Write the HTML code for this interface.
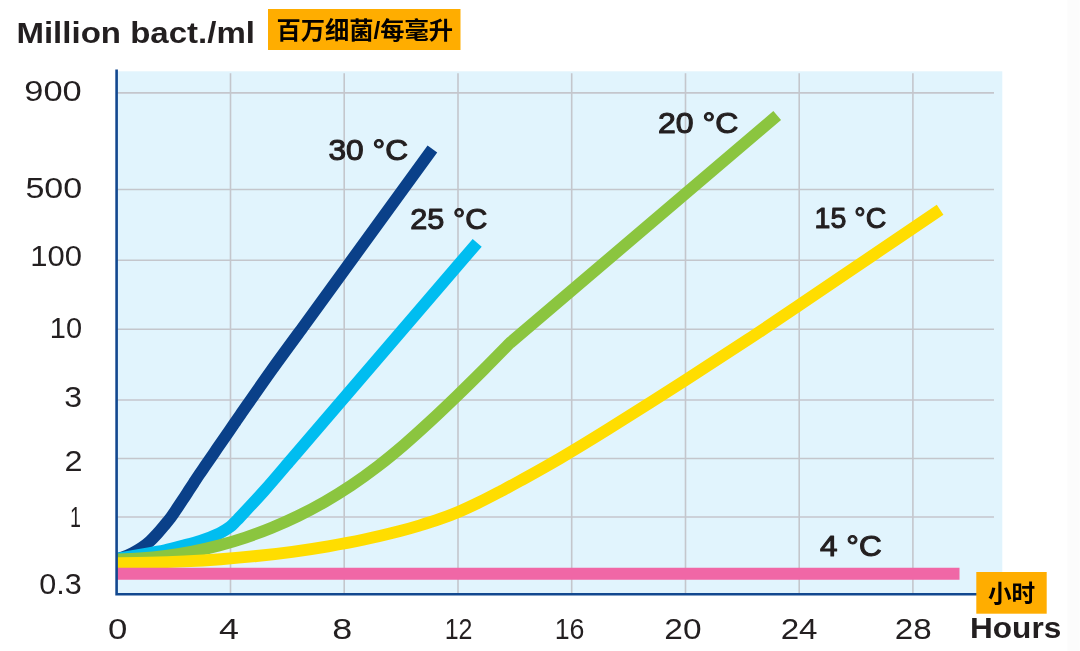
<!DOCTYPE html>
<html lang="zh"><head><meta charset="utf-8"><title>Million bact./ml</title>
<style>html,body{margin:0;padding:0;background:#fff}body{width:1080px;height:651px;overflow:hidden}svg{display:block}</style>
</head><body>
<svg width="1080" height="651" viewBox="0 0 1080 651">
<rect x="0" y="0" width="1080" height="651" fill="#ffffff"/>
<rect x="1067.5" y="0" width="12" height="651" fill="#fcfcfc"/>
<rect x="116.5" y="71.3" width="885.8" height="523" fill="#e1f4fd"/>
<g stroke="#c4c6cc" stroke-width="1.6" fill="none"><line x1="230.5" y1="73.3" x2="230.5" y2="594"/><line x1="344.2" y1="73.3" x2="344.2" y2="594"/><line x1="458.0" y1="73.3" x2="458.0" y2="594"/><line x1="571.7" y1="73.3" x2="571.7" y2="594"/><line x1="685.5" y1="73.3" x2="685.5" y2="594"/><line x1="799.2" y1="73.3" x2="799.2" y2="594"/><line x1="912.9" y1="73.3" x2="912.9" y2="594"/><line x1="117" y1="92.9" x2="994" y2="92.9"/><line x1="117" y1="189.5" x2="994" y2="189.5"/><line x1="117" y1="260.3" x2="994" y2="260.3"/><line x1="117" y1="329.2" x2="994" y2="329.2"/><line x1="117" y1="400.0" x2="994" y2="400.0"/><line x1="117" y1="458.5" x2="994" y2="458.5"/><line x1="117" y1="517.0" x2="994" y2="517.0"/></g>
<clipPath id="plot"><rect x="117" y="60" width="890" height="540"/></clipPath>
<g fill="none" stroke-width="11.9" stroke-linejoin="round" clip-path="url(#plot)">
<path d="M112.50,560.70 C114.23,560.13 119.53,558.59 122.90,557.31 C126.27,556.03 129.56,554.60 132.70,553.00 C135.84,551.40 138.88,549.64 141.73,547.70 C144.58,545.76 147.29,543.62 149.83,541.34 C152.37,539.06 154.65,536.57 156.99,534.00 C159.34,531.43 161.60,528.70 163.90,525.95 C166.20,523.20 168.67,520.34 170.80,517.50 C172.93,514.66 174.77,511.78 176.70,508.92 C178.63,506.06 180.52,503.19 182.40,500.33 C184.28,497.47 186.13,494.61 188.00,491.74 C189.87,488.88 191.72,486.01 193.60,483.14 C195.48,480.27 197.33,477.40 199.26,474.53 C201.19,471.66 203.20,468.79 205.17,465.92 C207.14,463.05 209.11,460.19 211.08,457.32 C213.05,454.45 215.02,451.58 216.99,448.71 C218.96,445.84 220.93,442.98 222.90,440.11 C224.87,437.24 226.84,434.38 228.81,431.51 C230.78,428.64 232.76,425.78 234.74,422.92 C236.72,420.06 234.48,423.20 240.67,414.33 C246.86,405.46 261.32,384.49 271.88,369.72 C282.44,354.95 298.65,333.06 304.00,325.73 L432.40,148.90" stroke="#0a4089"/>
<path d="M113.00,559.60 C119.17,558.50 141.33,554.55 150.00,553.00 C158.67,551.45 159.73,551.45 165.00,550.30 C170.27,549.15 175.70,547.67 181.60,546.10 C187.50,544.53 194.08,543.03 200.40,540.90 C206.72,538.77 214.60,535.60 219.50,533.30 C224.40,531.00 227.02,529.17 229.80,527.10 C232.58,525.03 234.40,522.68 236.20,520.90 C238.00,519.12 235.85,521.51 240.60,516.40 C245.35,511.29 256.47,499.53 264.70,490.26 C272.93,480.99 285.78,465.71 290.00,460.80 L477.20,242.78" stroke="#00bdf0"/>
<path d="M113.00,559.62 C117.42,559.43 130.68,559.11 139.50,558.47 C148.32,557.83 157.08,556.95 165.90,555.78 C174.72,554.61 183.57,553.20 192.40,551.47 C201.23,549.74 210.07,547.74 218.90,545.42 C227.73,543.10 236.58,540.49 245.40,537.54 C254.22,534.59 262.98,531.33 271.80,527.71 C280.62,524.09 289.47,520.16 298.30,515.84 C307.13,511.52 315.97,506.88 324.80,501.80 C333.63,496.73 342.48,491.29 351.30,485.39 C360.12,479.49 368.88,473.18 377.70,466.40 C386.52,459.62 395.37,452.31 404.20,444.73 C413.03,437.15 421.87,429.09 430.70,420.93 C439.53,412.77 448.38,404.29 457.20,395.77 C466.02,387.25 474.78,378.59 483.60,369.78 C492.42,360.96 505.68,347.36 510.10,342.88 L777.20,115.50" stroke="#8bc53f"/>
<path d="M113.00,563.15 C118.98,563.07 136.93,562.95 148.90,562.66 C160.87,562.37 172.85,561.95 184.80,561.38 C196.75,560.81 208.65,560.10 220.60,559.21 C232.55,558.32 244.53,557.28 256.50,556.04 C268.47,554.80 280.45,553.40 292.40,551.78 C304.35,550.16 316.25,548.36 328.20,546.31 C340.15,544.26 352.13,542.05 364.10,539.50 C376.07,536.95 390.68,533.35 400.00,530.99 C409.32,528.63 413.33,527.38 420.00,525.37 C426.67,523.37 433.33,521.31 440.00,518.96 C446.67,516.61 453.33,514.08 460.00,511.25 C466.67,508.42 473.33,505.23 480.00,501.97 C486.67,498.71 493.33,495.18 500.00,491.67 C506.67,488.16 510.00,486.47 520.00,480.91 C530.00,475.35 545.42,466.90 560.00,458.33 C574.58,449.76 586.62,442.50 607.50,429.50 C628.38,416.50 661.90,395.28 685.30,380.30 C708.70,365.32 728.88,352.15 747.90,339.60 C766.92,327.05 779.05,318.73 799.40,305.00 C819.75,291.27 846.55,273.08 870.00,257.20 C893.45,241.32 928.42,217.62 940.10,209.70" stroke="#ffdd00"/>
<path d="M113,573.7 L959.5,573.7" stroke="#f067a6" stroke-width="11.9"/>
</g>
<path d="M116.6,69.4 V594.2 H977" fill="none" stroke="#12488f" stroke-width="2.6"/>
<rect x="268" y="9" width="192.5" height="41" fill="#ffad00"/>
<rect x="976.3" y="572" width="70.4" height="41.7" fill="#ffad00"/>
<text x="16.44" y="43.20" textLength="238.52" lengthAdjust="spacingAndGlyphs" font-family="&quot;Liberation Sans&quot;, sans-serif" font-size="30.3" font-weight="700" fill="#231f20">Million bact./ml</text>
<text x="276.46" y="39.17" textLength="176.70" lengthAdjust="spacingAndGlyphs" font-family="&quot;Liberation Sans&quot;, &quot;Noto Sans CJK SC&quot;, sans-serif" font-size="24" font-weight="700" fill="#050200">百万细菌/每毫升</text>
<text x="987.93" y="602.20" textLength="47.24" lengthAdjust="spacingAndGlyphs" font-family="&quot;Liberation Sans&quot;, &quot;Noto Sans CJK SC&quot;, sans-serif" font-size="24" font-weight="700" fill="#050200">小时</text>
<text x="970.03" y="638.40" textLength="91.25" lengthAdjust="spacingAndGlyphs" font-family="&quot;Liberation Sans&quot;, sans-serif" font-size="30.3" font-weight="700" fill="#231f20">Hours</text>
<text x="24.29" y="101.30" textLength="57.47" lengthAdjust="spacingAndGlyphs" font-family="&quot;Liberation Sans&quot;, sans-serif" font-size="30.3" font-weight="400" fill="#231f20">900</text>
<text x="25.44" y="197.80" textLength="56.71" lengthAdjust="spacingAndGlyphs" font-family="&quot;Liberation Sans&quot;, sans-serif" font-size="30.3" font-weight="400" fill="#231f20">500</text>
<text x="30.36" y="266.00" textLength="51.71" lengthAdjust="spacingAndGlyphs" font-family="&quot;Liberation Sans&quot;, sans-serif" font-size="30.3" font-weight="400" fill="#231f20">100</text>
<text x="49.79" y="337.50" textLength="32.23" lengthAdjust="spacingAndGlyphs" font-family="&quot;Liberation Sans&quot;, sans-serif" font-size="30.3" font-weight="400" fill="#231f20">10</text>
<text x="64.30" y="407.20" textLength="17.80" lengthAdjust="spacingAndGlyphs" font-family="&quot;Liberation Sans&quot;, sans-serif" font-size="30.3" font-weight="400" fill="#231f20">3</text>
<text x="64.48" y="470.60" textLength="18.03" lengthAdjust="spacingAndGlyphs" font-family="&quot;Liberation Sans&quot;, sans-serif" font-size="30.3" font-weight="400" fill="#231f20">2</text>
<text x="69.97" y="527.20" textLength="10.92" lengthAdjust="spacingAndGlyphs" font-family="&quot;Liberation Sans&quot;, sans-serif" font-size="30.3" font-weight="400" fill="#231f20">1</text>
<text x="39.34" y="593.90" textLength="42.49" lengthAdjust="spacingAndGlyphs" font-family="&quot;Liberation Sans&quot;, sans-serif" font-size="30.3" font-weight="400" fill="#231f20">0.3</text>
<text x="107.91" y="638.60" textLength="19.35" lengthAdjust="spacingAndGlyphs" font-family="&quot;Liberation Sans&quot;, sans-serif" font-size="30.3" font-weight="400" fill="#231f20">0</text>
<text x="219.04" y="638.60" textLength="19.95" lengthAdjust="spacingAndGlyphs" font-family="&quot;Liberation Sans&quot;, sans-serif" font-size="30.3" font-weight="400" fill="#231f20">4</text>
<text x="332.18" y="638.60" textLength="19.98" lengthAdjust="spacingAndGlyphs" font-family="&quot;Liberation Sans&quot;, sans-serif" font-size="30.3" font-weight="400" fill="#231f20">8</text>
<text x="444.74" y="638.60" textLength="27.77" lengthAdjust="spacingAndGlyphs" font-family="&quot;Liberation Sans&quot;, sans-serif" font-size="30.3" font-weight="400" fill="#231f20">12</text>
<text x="554.63" y="638.60" textLength="29.76" lengthAdjust="spacingAndGlyphs" font-family="&quot;Liberation Sans&quot;, sans-serif" font-size="30.3" font-weight="400" fill="#231f20">16</text>
<text x="664.33" y="638.60" textLength="37.20" lengthAdjust="spacingAndGlyphs" font-family="&quot;Liberation Sans&quot;, sans-serif" font-size="30.3" font-weight="400" fill="#231f20">20</text>
<text x="780.65" y="638.60" textLength="36.88" lengthAdjust="spacingAndGlyphs" font-family="&quot;Liberation Sans&quot;, sans-serif" font-size="30.3" font-weight="400" fill="#231f20">24</text>
<text x="894.84" y="638.60" textLength="36.90" lengthAdjust="spacingAndGlyphs" font-family="&quot;Liberation Sans&quot;, sans-serif" font-size="30.3" font-weight="400" fill="#231f20">28</text>
<text x="328.51" y="160.40" textLength="79.59" lengthAdjust="spacingAndGlyphs" font-family="&quot;Liberation Sans&quot;, sans-serif" font-size="28.6" font-weight="400" fill="#231f20" stroke="#231f20" stroke-width="1.05" stroke-linejoin="round">30 °C</text>
<text x="410.31" y="229.20" textLength="77.00" lengthAdjust="spacingAndGlyphs" font-family="&quot;Liberation Sans&quot;, sans-serif" font-size="28.6" font-weight="400" fill="#231f20" stroke="#231f20" stroke-width="1.05" stroke-linejoin="round">25 °C</text>
<text x="657.90" y="133.30" textLength="80.41" lengthAdjust="spacingAndGlyphs" font-family="&quot;Liberation Sans&quot;, sans-serif" font-size="28.6" font-weight="400" fill="#231f20" stroke="#231f20" stroke-width="1.05" stroke-linejoin="round">20 °C</text>
<text x="814.62" y="228.40" textLength="71.67" lengthAdjust="spacingAndGlyphs" font-family="&quot;Liberation Sans&quot;, sans-serif" font-size="28.6" font-weight="400" fill="#231f20" stroke="#231f20" stroke-width="1.05" stroke-linejoin="round">15 °C</text>
<text x="820.01" y="556.00" textLength="61.69" lengthAdjust="spacingAndGlyphs" font-family="&quot;Liberation Sans&quot;, sans-serif" font-size="28.6" font-weight="400" fill="#231f20" stroke="#231f20" stroke-width="1.05" stroke-linejoin="round">4 °C</text>
</svg>
</body></html>
